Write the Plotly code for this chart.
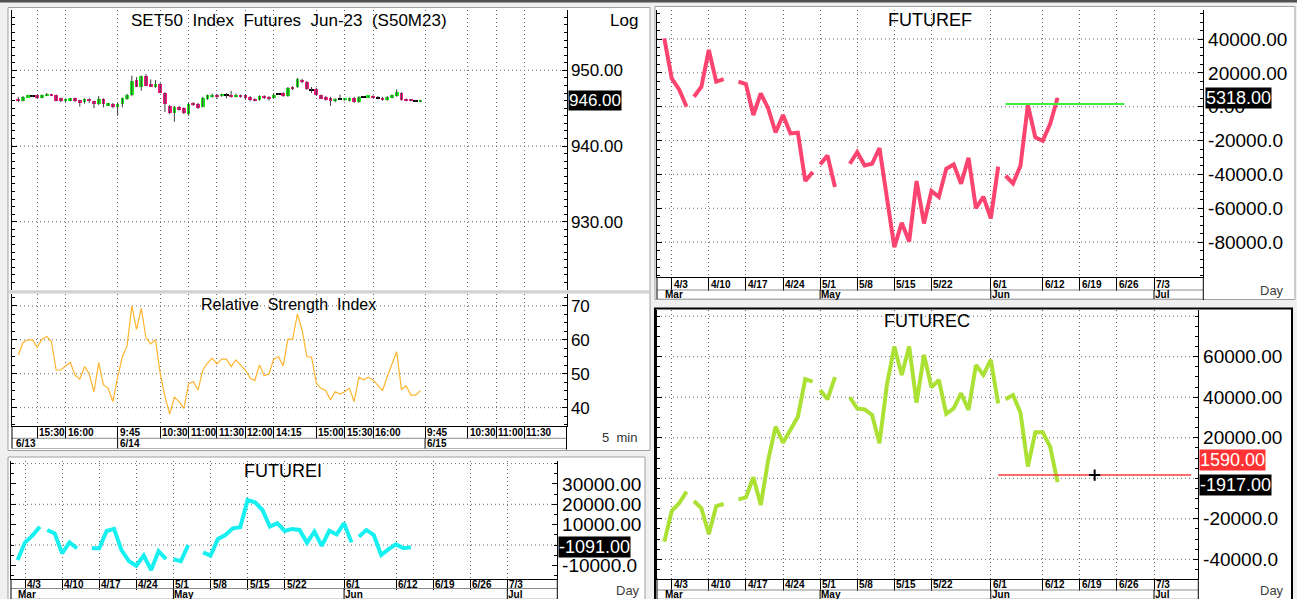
import plotly.graph_objects as go
import pandas as pd

W, H = 1297, 599
FONT = "Liberation Sans, Arial, Helvetica, sans-serif"


def PX(x):
    return x / W


def PY(y):
    return 1 - y / H


# ======================= DATA =======================
# --- intraday 5-minute bars (SET50 futures S50M23) ---
SESSIONS = [("6/13", "15:10", "16:50"), ("6/14", "9:45", "12:25"),
            ("6/14", "14:15", "16:50"), ("6/15", "9:45", "12:25")]

OPEN = [946.2, 946.0, 946.5, 946.6, 946.7, 946.4, 946.7, 946.8, 946.7, 946.3,
        945.9, 946.0, 946.3, 946.1, 945.8, 946.2, 945.9, 945.5, 946.2, 945.4,
        945.6, 945.2, 945.6, 946.2, 946.7, 948.7, 947.8, 949.3, 948.2, 947.8,
        948.2, 947.0, 945.3, 944.3, 945.1, 945.0, 944.2, 945.7, 945.6, 945.2,
        946.2, 946.5, 946.8, 946.6, 946.7, 946.8, 946.5, 946.7, 946.7, 946.5,
        946.2, 946.1, 946.6, 946.5, 946.4, 946.9, 947.0, 946.6, 947.8, 947.8,
        948.7, 948.5, 947.4, 947.6, 946.7, 946.5, 946.4, 945.9, 946.2, 946.1,
        946.0, 946.4, 945.8, 946.5, 946.5, 946.6, 946.4, 946.4, 946.1, 946.4,
        946.6, 947.0, 946.2, 946.1, 946.0, 945.9]
HIGH = [946.5, 946.6, 946.7, 946.7, 946.8, 946.8, 947.0, 946.9, 946.8, 946.4,
        946.2, 946.3, 946.4, 946.1, 946.3, 946.3, 946.0, 946.6, 946.3, 945.7,
        945.7, 945.7, 946.4, 946.9, 949.3, 949.1, 949.3, 949.5, 948.8, 948.7,
        948.3, 947.1, 945.4, 945.3, 945.3, 945.1, 945.7, 945.8, 945.7, 946.5,
        946.8, 946.9, 946.9, 946.9, 947.0, 947.3, 946.9, 946.8, 946.8, 946.6,
        946.3, 946.7, 946.7, 946.6, 947.0, 947.0, 947.1, 947.8, 947.9, 949.0,
        948.9, 948.6, 947.8, 947.7, 946.8, 946.6, 946.5, 946.3, 946.8, 946.3,
        946.4, 946.5, 946.6, 946.6, 946.6, 946.7, 946.6, 946.5, 946.6, 946.8,
        947.5, 947.1, 946.3, 946.2, 946.1, 946.1]
LOW = [945.8, 945.9, 946.5, 946.5, 946.2, 946.3, 946.6, 946.6, 945.9, 945.8,
       945.8, 945.9, 945.8, 945.2, 945.6, 945.7, 945.0, 945.4, 945.1, 945.3,
       945.0, 944.0, 945.1, 946.1, 946.6, 947.8, 947.3, 947.9, 947.8, 947.7,
       947.0, 944.5, 944.2, 943.2, 944.7, 944.2, 944.0, 945.3, 944.9, 945.1,
       946.1, 946.4, 946.2, 946.5, 946.3, 946.4, 946.4, 946.4, 946.1, 945.9,
       945.9, 946.0, 946.2, 946.0, 946.3, 946.8, 946.5, 946.5, 947.4, 947.7,
       948.3, 947.4, 947.0, 946.6, 946.2, 946.0, 945.3, 945.8, 946.1, 946.0,
       945.9, 945.7, 945.7, 946.4, 946.4, 946.3, 946.3, 946.0, 946.0, 946.3,
       946.5, 946.0, 945.9, 945.9, 945.9, 945.8]
CLOSE = [945.9, 946.5, 946.6, 946.6, 946.3, 946.7, 946.8, 946.7, 945.9, 945.9,
         946.2, 946.3, 945.9, 945.7, 946.2, 945.9, 945.5, 946.2, 945.6, 945.6,
         945.1, 945.6, 946.3, 946.8, 948.6, 947.8, 949.2, 947.9, 947.8, 948.2,
         947.0, 945.6, 944.3, 945.2, 944.8, 944.3, 945.6, 945.4, 945.0, 946.4,
         946.7, 946.8, 946.5, 946.8, 946.7, 946.5, 946.8, 946.5, 946.4, 946.1,
         945.9, 946.6, 946.3, 946.2, 946.8, 946.9, 946.6, 947.7, 947.5, 948.9,
         948.4, 947.5, 947.4, 946.7, 946.2, 946.1, 945.9, 946.2, 946.2, 946.3,
         946.3, 945.8, 946.5, 946.5, 946.6, 946.4, 946.4, 946.1, 946.5, 946.7,
         947.1, 946.1, 946.0, 946.0, 946.0, 946.0]
RSI = [55.5, 59.2, 60.0, 60.0, 57.8, 60.2, 61.0, 59.5, 51.1, 51.1,
       52.3, 53.3, 49.6, 48.4, 52.1, 50.0, 44.7, 53.3, 46.7, 45.7,
       41.8, 49.0, 55.0, 58.2, 70.0, 63.1, 69.3, 60.5, 58.8, 60.0,
       50.1, 43.3, 38.1, 43.1, 41.8, 39.8, 47.0, 47.7, 45.2, 51.1,
       53.1, 54.6, 52.9, 54.3, 54.3, 52.1, 54.1, 52.6, 51.1, 48.7,
       48.0, 52.6, 49.4, 50.0, 54.3, 55.0, 52.3, 60.2, 60.2, 67.6,
       62.9, 55.0, 54.9, 47.2, 45.7, 45.0, 42.3, 44.7, 44.0, 44.7,
       45.7, 41.8, 49.0, 48.2, 49.0, 48.2, 46.7, 45.0, 49.2, 52.6,
       56.5, 45.4, 46.4, 43.7, 43.7, 45.0]

TIME_TICKS = [("6/13", "15:30"), ("6/13", "16:00"), ("6/14", "9:45"), ("6/14", "10:30"),
              ("6/14", "11:00"), ("6/14", "11:30"), ("6/14", "12:00"), ("6/14", "14:15"),
              ("6/14", "15:00"), ("6/14", "15:30"), ("6/14", "16:00"), ("6/15", "9:45"),
              ("6/15", "10:30"), ("6/15", "11:00"), ("6/15", "11:30")]
INTRA_DAYS = ["6/13", "6/14", "6/15"]

PRICE_TICKS = [950, 940, 930]
PRICE_GRID = [950, 940, 930]
RSI_TICKS = [70, 60, 50, 40]
RSI_GRID = [70, 60, 50, 40]

# --- daily series (weekday axis, segments of consecutive weekdays) ---
DATE_START, DATE_END = "2023-03-31", "2023-07-14"
DAY_TICKS = ["2023-04-03", "2023-04-10", "2023-04-17", "2023-04-24", "2023-05-01",
             "2023-05-08", "2023-05-15", "2023-05-22", "2023-06-01", "2023-06-12",
             "2023-06-19", "2023-06-26", "2023-07-03"]
DAY_TICK_TEXT = ["4/3", "4/10", "4/17", "4/24", "5/1", "5/8", "5/15", "5/22",
                 "6/1", "6/12", "6/19", "6/26", "7/3"]
MONTHS = [("2023-03-31", "Mar"), ("2023-05-01", "May"), ("2023-06-01", "Jun"),
          ("2023-07-03", "Jul")]

FUTUREI = [
    ("2023-03-31", [-7400, 1300, 4600, 9000]),
    ("2023-04-06", [7400, 5700, -4100, 1300, -1600]),
    ("2023-04-14", [-1600, -1600, 6900, 7900, -2500, -7900, -10200, -5200, -12300, -3000, -6900]),
    ("2023-05-01", [-7000, -7900, 0]),
    ("2023-05-05", [-3600, -5200, 2950, 4900, 8200, 8700, 22100, 20950, 17200, 9000, 10700,
                    6900, 7900, 7400, 1100, 6600, -400, 7000, 5200, 10700, 1300]),
    ("2023-06-05", [4100, 7400, 4900, -4900, -2000, 300, -1600, -1091]),
]
FUTUREF = [
    ("2023-03-31", [40400, 16700, 10200, 0]),
    ("2023-04-06", [5900, 11800, 33500, 14800, 16300]),
    ("2023-04-14", [14800, 13400, -4900, 7900, -1000, -15200, -4900, -15800, -15400, -43900, -38600]),
    ("2023-05-01", [-34100, -28900, -47400]),
    ("2023-05-05", [-33700, -26900, -34700, -33700, -24400, -54000, -83000, -68600, -79700, -43900,
                    -69000, -49800, -53300, -36700, -34100, -45500, -30200, -60000, -53200, -66000,
                    -35400]),
    ("2023-06-05", [-40800, -45300, -34900, 1000, -18100, -20100, -10200, 5318]),
]
FUTUREC = [
    ("2023-03-31", [-31300, -16100, -12300, -6600]),
    ("2023-04-06", [-11200, -14800, -27500, -13700, -12700]),
    ("2023-04-14", [-10400, -9400, 500, -13200, 9000, 25500, 17600, 23900, 30400, 48900, 47700]),
    ("2023-05-01", [43600, 39000, 49900]),
    ("2023-05-05", [40000, 34500, 34000, 31300, 17300, 46100, 65000, 51000, 65000, 37300, 60900,
                    44900, 48500, 31800, 34500, 42000, 33700, 55900, 51000, 58400, 37000]),
    ("2023-06-05", [39000, 41100, 32400, 5800, 22700, 22700, 15600, -1917]),
]
REF_LEVEL = 1590
REF_F_SPAN = ("2023-06-05", "2023-06-27")
REF_C_SPAN = ("2023-06-02", "2023-07-10")
CURSOR_C = ("2023-06-21", 1590)

I_TICKS = [30000, 20000, 10000, -10000]
I_TEXT = ["30000.00", "20000.00", "10000.00", "-10000.0"]
I_GRID = [40000, 20000, 0]
F_TICKS = [40000, 20000, 0, -20000, -40000, -60000, -80000]
F_TEXT = ["40000.00", "20000.00", "0.00", "-20000.0", "-40000.0", "-60000.0", "-80000.0"]
F_GRID = [40000, 20000, 0, -20000, -40000, -60000, -80000]
C_TICKS = [60000, 40000, 20000, -20000, -40000]
C_TEXT = ["60000.00", "40000.00", "20000.00", "-20000.0", "-40000.0"]
C_GRID = [80000, 60000, 40000, 20000, 0, -20000, -40000]

# ======================= BUILD =======================
BARS = []
for day, t0, t1 in SESSIONS:
    h0, m0 = map(int, t0.split(":"))
    h1, m1 = map(int, t1.split(":"))
    t = h0 * 60 + m0
    while t <= h1 * 60 + m1:
        BARS.append((day, f"{t // 60}:{t % 60:02d}"))
        t += 5
BAR_POS = {b: i for i, b in enumerate(BARS)}
INTRA_TICK_POS = [BAR_POS[t] for t in TIME_TICKS]
DAY_START_POS = {d: min(i for i, b in enumerate(BARS) if b[0] == d) for d in INTRA_DAYS}

DATES = pd.bdate_range(DATE_START, DATE_END)
DATE_POS = {d.strftime("%Y-%m-%d"): i for i, d in enumerate(DATES)}
DAY_TICK_POS = [DATE_POS[d] for d in DAY_TICKS]

UP, DOWN, DOJI = "#1ff01f", "#ff1a86", "#000000"
COL_I, COL_F, COL_C, COL_RSI = "#17f0f0", "#fb4570", "#abe035", "#ffb52e"

# panel geometry (pixels)
P = {
    "price": dict(x=(12, 566.5), y=(10, 290)),
    "rsi": dict(x=(12, 566.5), y=(294, 426)),
    "i": dict(x=(11, 557.3), y=(461, 579)),
    "f": dict(x=(657, 1203.3), y=(10, 277.3)),
    "c": dict(x=(657, 1198.3), y=(310, 578.5)),
}
BAR_X0, BAR_DX = 18.3, 4.73
DAY_XI, DAY_XR, DAY_DX = 17.6, 664.3, 7.42


def xr_intra(px):
    return [(px[0] - BAR_X0) / BAR_DX, (px[1] - BAR_X0) / BAR_DX]


def xr_day(px, x0):
    return [(px[0] - x0) / DAY_DX, (px[1] - x0) / DAY_DX]


fig = go.Figure()

# candle wicks
wx, wy = [], []
for i, (hh, ll) in enumerate(zip(HIGH, LOW)):
    wx += [i, i, None]
    wy += [ll, hh, None]
fig.add_trace(go.Scatter(x=wx, y=wy, mode="lines", line=dict(color="#3c3c3c", width=1),
                         xaxis="x", yaxis="y", hoverinfo="skip", showlegend=False))

# candle bodies
for kind, col in (("up", UP), ("down", DOWN), ("doji", DOJI)):
    xs, bases, hs = [], [], []
    for i, (o, c) in enumerate(zip(OPEN, CLOSE)):
        k = "up" if c > o else ("down" if c < o else "doji")
        if k != kind:
            continue
        lo, hi = min(o, c), max(o, c)
        hgt = max(hi - lo, 0.3) if kind != "doji" else 0.14
        xs.append(i)
        bases.append((lo + hi) / 2 - hgt / 2)
        hs.append(hgt)
    fig.add_trace(go.Bar(x=xs, y=hs, base=bases, width=0.78 if kind != "doji" else 0.95,
                         marker=dict(color=col, line=dict(width=0)),
                         xaxis="x", yaxis="y", hoverinfo="skip", showlegend=False))

# RSI
fig.add_trace(go.Scatter(x=list(range(len(RSI))), y=RSI, mode="lines",
                         line=dict(color=COL_RSI, width=1.2), xaxis="x2", yaxis="y2",
                         hoverinfo="skip", showlegend=False))


def seg_xy(segments):
    xs, ys = [], []
    for start, vals in segments:
        i0 = DATE_POS[start]
        xs += [i0 + k for k in range(len(vals))] + [None]
        ys += list(vals) + [None]
    return xs, ys


for segs, col, xa, ya in ((FUTUREI, COL_I, "x3", "y3"), (FUTUREF, COL_F, "x4", "y4"),
                          (FUTUREC, COL_C, "x5", "y5")):
    xs, ys = seg_xy(segs)
    fig.add_trace(go.Scatter(x=xs, y=ys, mode="lines", connectgaps=False,
                             line=dict(color=col, width=4), xaxis=xa, yaxis=ya,
                             hoverinfo="skip", showlegend=False))

fig.add_trace(go.Scatter(x=[DATE_POS[REF_F_SPAN[0]], DATE_POS[REF_F_SPAN[1]]],
                         y=[REF_LEVEL, REF_LEVEL], mode="lines",
                         line=dict(color="#3cf03c", width=2), xaxis="x4", yaxis="y4",
                         hoverinfo="skip", showlegend=False))
fig.add_trace(go.Scatter(x=[DATE_POS[REF_C_SPAN[0]], DATE_POS[REF_C_SPAN[1]]],
                         y=[REF_LEVEL, REF_LEVEL], mode="lines",
                         line=dict(color="#ff3b3b", width=1.5), xaxis="x5", yaxis="y5",
                         hoverinfo="skip", showlegend=False))
fig.add_trace(go.Scatter(x=[DATE_POS[CURSOR_C[0]]], y=[CURSOR_C[1]], mode="markers",
                         marker=dict(symbol="cross-thin", size=8, line=dict(color="black", width=2)),
                         xaxis="x5", yaxis="y5", hoverinfo="skip", showlegend=False))

GRID = dict(showgrid=True, gridcolor="#6a6a6a", griddash="1px,3px", gridwidth=1)


def xaxis(key, rng, tickvals, anchor, ticklen):
    px = P[key]["x"]
    d = dict(domain=[PX(px[0]), PX(px[1])], range=rng, anchor=anchor, tickmode="array",
             tickvals=tickvals, showticklabels=False, zeroline=False, fixedrange=True,
             showline=ticklen > 0, linecolor="black", linewidth=1, **GRID)
    if ticklen:
        d.update(ticks="outside", ticklen=ticklen, tickcolor="black", tickwidth=1)
    else:
        d.update(ticks="")
    return d


def yaxis(key, rng, tickvals, ticktext, minor_dtick, fsize, anchor):
    py = P[key]["y"]
    return dict(domain=[PY(py[1]), PY(py[0])], range=rng, side="right", anchor=anchor,
                tickmode="array", tickvals=tickvals, ticktext=ticktext,
                ticks="inside", ticklen=5, tickcolor="black", tickwidth=1,
                minor=dict(dtick=minor_dtick, ticks="inside", ticklen=3, tickcolor="black",
                           showgrid=False),
                showline=True, linecolor="black", linewidth=1, mirror="allticks",
                showgrid=False, zeroline=False, fixedrange=True,
                tickfont=dict(size=fsize, color="black", family=FONT))


layout = dict(
    width=W, height=H, margin=dict(l=0, r=0, t=0, b=0),
    paper_bgcolor="#f0f0f0", plot_bgcolor="white", barmode="overlay", bargap=0,
    showlegend=False, hovermode=False, font=dict(family=FONT),
    xaxis=xaxis("price", xr_intra(P["price"]["x"]), INTRA_TICK_POS, "y", 0),
    yaxis=yaxis("price", [920.98, 957.97], PRICE_TICKS, [f"{v:.2f}" for v in PRICE_TICKS], 1, 17, "x"),
    xaxis2=xaxis("rsi", xr_intra(P["rsi"]["x"]), INTRA_TICK_POS, "y2", 12.3),
    yaxis2=yaxis("rsi", [34.6, 73.5], RSI_TICKS, [str(v) for v in RSI_TICKS], 2.5, 17, "x2"),
    xaxis3=xaxis("i", xr_day(P["i"]["x"], DAY_XI), DAY_TICK_POS, "y3", 9.5),
    yaxis3=yaxis("i", [-16708, 41277], I_TICKS, I_TEXT, 5000, 19, "x3"),
    xaxis4=xaxis("f", xr_day(P["f"]["x"], DAY_XR), DAY_TICK_POS, "y4", 12.7),
    yaxis4=yaxis("f", [-100800, 57135], F_TICKS, F_TEXT, 5000, 19, "x4"),
    xaxis5=xaxis("c", xr_day(P["c"]["x"], DAY_XR), DAY_TICK_POS, "y5", 11.5),
    yaxis5=yaxis("c", [-49440, 83050], C_TICKS, C_TEXT, 5000, 19, "x5"),
)
fig.update_layout(**layout)

shapes = []


def rect(x0, y0, x1, y1, fill, line="#a0a0a0", lw=1, layer="below"):
    shapes.append(dict(type="rect", xref="paper", yref="paper", x0=PX(x0), x1=PX(x1),
                       y0=PY(y1), y1=PY(y0), fillcolor=fill,
                       line=dict(color=line, width=lw), layer=layer))


def pline(x0, y0, x1, y1, color="black", lw=1):
    shapes.append(dict(type="line", xref="paper", yref="paper", x0=PX(x0), x1=PX(x1),
                       y0=PY(y0), y1=PY(y1), line=dict(color=color, width=lw), layer="above"))


rect(0, 0, 1297, 2.5, "#505050", line="rgba(0,0,0,0)", lw=0)
rect(8, 7.5, 650, 450.5, "white")
rect(8, 457, 645, 600, "white")
rect(655, 6.5, 1295, 299.5, "white")
rect(655, 308.5, 1292, 600, "white", line="black", lw=2)
rect(8.5, 290.3, 649.5, 293.5, "#d2d2d2", line="rgba(0,0,0,0)", lw=0)

# horizontal gridlines
for vals, xa, ya in ((PRICE_GRID, "x", "y"), (RSI_GRID, "x2", "y2"), (I_GRID, "x3", "y3"),
                     (F_GRID, "x4", "y4"), (C_GRID, "x5", "y5")):
    for v in vals:
        shapes.append(dict(type="line", xref=f"{xa} domain", yref=ya, x0=0, x1=1, y0=v, y1=v,
                           line=dict(color="#6a6a6a", width=1, dash="1px,3px"), layer="below"))

# label-row frames
ROWS = [
    ("rsi", "x2", 426, 438.3, 448.5, [DAY_START_POS[d] for d in INTRA_DAYS[1:]]),
    ("i", "x3", 579, 588.5, 599, [DATE_POS[m[0]] for m in MONTHS[1:]]),
    ("f", "x4", 277.3, 290, 299, [DATE_POS[m[0]] for m in MONTHS[1:]]),
    ("c", "x5", 578.5, 590, 599, [DATE_POS[m[0]] for m in MONTHS[1:]]),
]
for key, xa, yb, ysep, ybot, seps in ROWS:
    xl, xrt = P[key]["x"]
    pline(xl, ysep, xrt, ysep, color="#8c8c8c")
    pline(xl, ybot, xrt, ybot, color="#b4b4b4")
    pline(xl, yb, xl, ybot, color="black")
    pline(xrt, yb, xrt, ybot + 1, color="black")
    for s in seps:
        shapes.append(dict(type="line", xref=xa, yref="paper", x0=s, x1=s, y0=PY(ysep),
                           y1=PY(ybot), line=dict(color="black", width=1), layer="above"))
fig.update_layout(shapes=shapes)

ann = []


def text(t, x, y, size, color="black", xanchor="center", **kw):
    ann.append(dict(text=t, xref="paper", yref="paper", x=PX(x), y=PY(y), xanchor=xanchor,
                    yanchor="middle", showarrow=False,
                    font=dict(size=size, color=color, family=FONT), **kw))


NB = "\u00a0\u00a0"
text(NB.join(["SET50", "Index", "Futures", "Jun-23", "(S50M23)"]), 289, 20.5, 17)
text("Log", 624, 20.5, 17)
text(NB.join(["Relative", "Strength", "Index"]), 288, 304, 16)
text("FUTUREI", 283, 471, 18)
text("FUTUREF", 930, 20.5, 18)
text("FUTUREC", 927, 320.5, 18)
text("5" + NB + "min", 619, 437.7, 13, color="#333333")
for x, y in ((628, 590), (1272, 290), (1272, 590)):
    text("Day", x, y, 13, color="#404040")


def row_label(t, xref, x, ypx):
    ann.append(dict(text=f"<b>{t}</b>", xref=xref, x=x, yref="paper", y=PY(ypx),
                    xanchor="left", yanchor="middle", xshift=0, showarrow=False,
                    font=dict(size=10, color="black", family=FONT)))


for (d, tm), pos in zip(TIME_TICKS, INTRA_TICK_POS):
    row_label(tm, "x2", pos, 432.5)
for d in INTRA_DAYS:
    if d == INTRA_DAYS[0]:
        ann.append(dict(text=f"<b>{d}</b>", xref="x2 domain", x=0, yref="paper", y=PY(443.5),
                        xanchor="left", yanchor="middle", xshift=2, showarrow=False,
                        font=dict(size=10, color="black", family=FONT)))
    else:
        row_label(d, "x2", DAY_START_POS[d], 443.5)

for xa, y1, y2 in (("x3", 584, 594), ("x4", 284, 294.8), ("x5", 584.5, 594.8)):
    for pos, t in zip(DAY_TICK_POS, DAY_TICK_TEXT):
        row_label(t, xa, pos, y1)
    for dstr, m in MONTHS:
        row_label(m, xa, DATE_POS[dstr] - 0.15, y2)


def value_box(v, xpx, yref, size, bg="black", yshift=0):
    ann.append(dict(text=f"{v:.2f}", xref="paper", x=PX(xpx), yref=yref, y=v, xanchor="left",
                    yanchor="middle", showarrow=False, bgcolor=bg, borderpad=0, yshift=yshift,
                    font=dict(size=size, color="white", family=FONT)))


value_box(CLOSE[-1], 568, "y", 17)
value_box(FUTUREI[-1][1][-1], 557.8, "y3", 18)
value_box(FUTUREF[-1][1][-1], 1204.5, "y4", 18)
value_box(REF_LEVEL, 1199, "y5", 18, bg="#ff3333", yshift=15)
value_box(FUTUREC[-1][1][-1], 1199, "y5", 18, yshift=-3)

fig.update_layout(annotations=ann)
fig.write_html("out.html", config={"displayModeBar": False},
               post_script="document.body.style.margin='0';document.body.style.overflow='hidden';")
